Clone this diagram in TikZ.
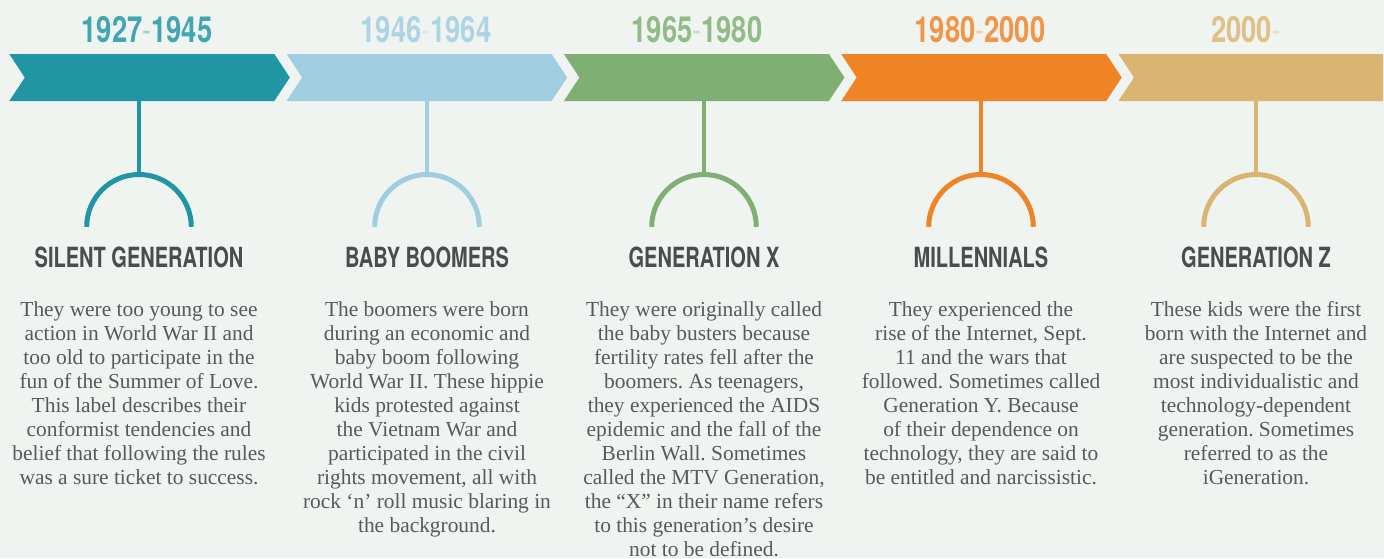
\documentclass[tikz,border=0pt]{standalone}
\usepackage{fontspec}
\setmainfont{Liberation Serif}
\newfontfamily\headfont{TeX Gyre Heros}
\usetikzlibrary{positioning}
\frenchspacing

\definecolor{paper}{HTML}{EFF4F0}
\definecolor{genteal}{HTML}{2096A4}
\definecolor{genblue}{HTML}{A0CDDF}
\definecolor{gengreen}{HTML}{80AF73}
\definecolor{genorange}{HTML}{EF8427}
\definecolor{gentan}{HTML}{D9B571}
\definecolor{headgray}{HTML}{4B4C4E}
\definecolor{bodygray}{HTML}{58595B}

% year span above each bar, the dash set lighter and thinner
\newcommand{\genyears}[3]{\scalebox{0.76}[1]{\textcolor{#3!85!white}{#1}\textcolor{#3!45!white}{\mdseries-}\textcolor{#3!85!white}{#2}}}
\newcommand{\genname}[1]{\scalebox{0.72}[1]{#1}}

\begin{document}
\begin{tikzpicture}[x=1pt, y=-1pt,
    stemline/.style={line width=3.5pt},
    hoop/.style={line width=5pt},
    yearlabel/.style={anchor=base, inner sep=0pt, font=\headfont\bfseries\fontsize{36}{36}\selectfont},
    namelabel/.style={anchor=base, inner sep=0pt, text=headgray, font=\headfont\bfseries\fontsize{27.8}{28}\selectfont},
    blurb/.style={anchor=north, inner sep=0pt, align=center, text=bodygray, font=\fontsize{21.4}{24}\selectfont}]

    % 1. Page background
    \fill[paper] (0,0) rectangle (1384,558);
    \useasboundingbox (0,0) rectangle (1384,558);

    % 2. Chevron bars, stems and half rings
    \foreach \i/\cx/\col in {1/139/genteal, 2/427/genblue, 3/704/gengreen, 4/981/genorange, 5/1256/gentan} {
        \pgfmathsetmacro{\L}{9.3+277.3*(\i-1)}
        \ifnum\i<5
            \fill[\col] (\L,54) -- ++(265,0) -- ++(15.5,23.5) -- ++(-15.5,23.5) -- ++(-265,0) -- ++(15.5,-23.5) -- cycle;
        \else
            \fill[\col] (\L,54) -- (1383,54) -- (1383,101) -- (\L,101) -- ++(15.5,-23.5) -- cycle;
        \fi
        \coordinate (bar\i) at (\cx,100);
        \coordinate (ring\i) at (\cx,174.5);
        \draw[stemline,\col] (bar\i) -- (ring\i);
        \draw[hoop,\col] (\cx-52.3,226.8) arc[start angle=180, end angle=0, radius=52.3pt];
    }

    % 3. Years
    \node[yearlabel] (year1) at (147,42) {\genyears{1927}{1945}{genteal}};
    \node[yearlabel] (year2) at (426,42) {\genyears{1946}{1964}{genblue}};
    \node[yearlabel] (year3) at (697,42) {\genyears{1965}{1980}{gengreen}};
    \node[yearlabel] (year4) at (980,42) {\genyears{1980}{2000}{genorange}};
    \node[yearlabel] (year5) at (1246,42) {\genyears{2000}{}{gentan}};

    % 4. Generation names
    \node[namelabel] (name1) at (139,267) {\genname{SILENT GENERATION}};
    \node[namelabel] (name2) at (427,267) {\genname{BABY BOOMERS}};
    \node[namelabel] (name3) at (704,267) {\genname{GENERATION X}};
    \node[namelabel] (name4) at (981,267) {\genname{MILLENNIALS}};
    \node[namelabel] (name5) at (1256,267) {\genname{GENERATION Z}};

    % 5. Descriptions
    \node[blurb] (text1) at (139,301.4) {They were too young to see\\action in World War II and\\too old to participate in the\\fun of the Summer of Love.\\This label describes their\\conformist tendencies and\\belief that following the rules\\was a sure ticket to success.};
    \node[blurb] (text2) at (427,301.4) {The boomers were born\\during an economic and\\baby boom following\\World War II. These hippie\\kids protested against\\the Vietnam War and\\participated in the civil\\rights movement, all with\\rock ‘n’ roll music blaring in\\the background.};
    \node[blurb] (text3) at (704,301.4) {They were originally called\\the baby busters because\\fertility rates fell after the\\boomers. As teenagers,\\they experienced the AIDS\\epidemic and the fall of the\\Berlin Wall. Sometimes\\called the MTV Generation,\\the “X” in their name refers\\to this generation’s desire\\not to be defined.};
    \node[blurb] (text4) at (981,301.4) {They experienced the\\rise of the Internet, Sept.\\11 and the wars that\\followed. Sometimes called\\Generation Y. Because\\of their dependence on\\technology, they are said to\\be entitled and narcissistic.};
    \node[blurb] (text5) at (1256,301.4) {These kids were the first\\born with the Internet and\\are suspected to be the\\most individualistic and\\technology-dependent\\generation. Sometimes\\referred to as the\\iGeneration.};

\end{tikzpicture}
\end{document}
